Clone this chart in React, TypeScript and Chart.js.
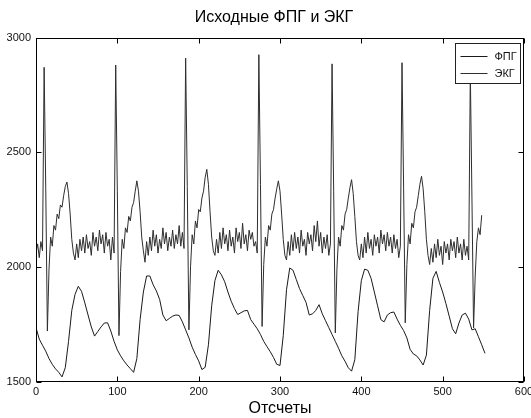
import React, { useEffect, useRef } from "react";
import { Chart, registerables } from "chart.js";

Chart.register(...registerables);

const chartTitle = "Исходные ФПГ и ЭКГ";
const xAxisLabel = "Отсчеты";
const seriesLabels = ["ФПГ", "ЭКГ"];
const xTicks = [0, 100, 200, 300, 400, 500, 600];
const yTicks = [1500, 2000, 2500, 3000];

// ФПГ: one value every 4 samples, starting at sample 0
const ppgStep = 4;
const ppgValues = [
  1735, 1685, 1658, 1632, 1600, 1575, 1555, 1540, 1520, 1560,
  1675, 1810, 1880, 1915, 1893, 1843, 1790, 1738, 1698, 1718,
  1738, 1755, 1756, 1720, 1675, 1638, 1612, 1590, 1572, 1556,
  1540, 1600, 1770, 1890, 1960, 1960, 1922, 1895, 1858, 1790,
  1765, 1775, 1785, 1790, 1788, 1760, 1725, 1690, 1650, 1618,
  1590, 1552, 1562, 1660, 1830, 1940, 1985, 1965, 1935, 1890,
  1850, 1818, 1792, 1800, 1808, 1810, 1770, 1750, 1730, 1705,
  1675, 1652, 1630, 1605, 1575, 1570, 1700, 1900, 1995, 1985,
  1945, 1905, 1875, 1845, 1790, 1795, 1810, 1835, 1795, 1765,
  1735, 1705, 1675, 1645, 1612, 1588, 1560, 1545, 1595, 1805,
  1940, 1990, 1985, 1950, 1890, 1830, 1770, 1760, 1790, 1800,
  1803, 1772, 1745, 1722, 1690, 1640, 1620, 1612, 1594, 1572,
  1615, 1810, 1950, 1980, 1932, 1890, 1840, 1785, 1730, 1708,
  1755, 1790, 1798, 1772, 1725, 1730, 1695, 1660, 1623,
];

// ЭКГ: one value every 2 samples, starting at sample 0
const ecgStep = 2;
const ecgValues = [
  2060, 2100, 2040, 2110, 2070,
  2870, 2340, 1720, 1990, 2130, 2090, 2180, 2160, 2230, 2210, 2270, 2260, 2310, 2350, 2370, 2320, 2230, 2120, 2060, 2030,
  2100, 2040, 2120, 2070, 2130, 2060, 2140, 2080, 2110, 2050, 2150, 2090, 2130, 2070, 2160, 2100, 2140, 2060, 2150, 2090, 2120, 2030, 2130,
  2060,
  2880, 2330, 1700, 1980, 2120, 2080, 2170, 2150, 2220, 2200, 2260, 2280, 2330, 2375, 2330, 2240, 2130, 2070, 2020,
  2110, 2050, 2130, 2070, 2160, 2090, 2140, 2060, 2120, 2080, 2170, 2100, 2150, 2070, 2130, 2090, 2160, 2080, 2140, 2100, 2180, 2090, 2150,
  2080,
  2910, 2350, 1725, 2000, 2140, 2100, 2200, 2170, 2250, 2240, 2300, 2330, 2390, 2425, 2360, 2240, 2130, 2070, 2050,
  2120, 2060, 2150, 2080, 2170, 2100, 2140, 2070, 2160, 2090, 2130, 2060, 2170, 2110, 2150, 2080, 2190, 2100, 2140, 2070, 2160, 2120, 2150, 2090, 2110,
  2060,
  2925, 2360, 1740, 2010, 2130, 2090, 2180, 2160, 2230, 2250, 2300, 2340, 2375, 2330, 2230, 2120, 2050, 2030,
  2110, 2050, 2140, 2070, 2150, 2080, 2130, 2060, 2160, 2090, 2120, 2050, 2150, 2100, 2140, 2070, 2180, 2110, 2200, 2090, 2150, 2060, 2130, 2080, 2140, 2050,
  2100,
  2885, 2330, 1712, 1990, 2130, 2090, 2180, 2160, 2230, 2250, 2300, 2345, 2380, 2320, 2220, 2110, 2050, 2030,
  2100, 2040, 2130, 2060, 2150, 2080, 2120, 2050, 2140, 2090, 2130, 2060, 2160, 2100, 2140, 2070, 2150, 2090, 2130, 2060, 2140, 2080, 2120, 2040,
  2090,
  2890, 2340, 1756, 2010, 2140, 2100, 2190, 2170, 2240, 2260, 2310, 2360, 2395, 2340, 2240, 2120, 2050, 2010,
  2080, 2020, 2100, 2040, 2120, 2050, 2090, 2010, 2110, 2060, 2100, 2030, 2120, 2070, 2110, 2040, 2130, 2060, 2100, 2030, 2120, 2050, 2090,
  2030,
  2850, 2300, 1734, 1960, 2110, 2170, 2140, 2225,
];

const FONT = '"Liberation Sans", Arial, sans-serif';

const matlabFrame = {
  id: "matlabFrame",
  afterDraw(chart: any) {
    const { ctx, chartArea: a, scales } = chart;
    const xs = scales.x;
    const ys = scales.y;
    ctx.save();

    // title centred like the reference
    ctx.fillStyle = "#000";
    ctx.font = "16px " + FONT;
    ctx.textAlign = "center";
    ctx.textBaseline = "middle";
    ctx.fillText(chartTitle, 274, 18);

    ctx.strokeStyle = "#000";
    ctx.lineWidth = 1;
    const L = Math.round(a.left) + 0.5;
    const R = Math.round(a.right) - 0.5;
    const T = Math.round(a.top) + 0.5;
    const B = Math.round(a.bottom) - 0.5;
    ctx.strokeRect(L, T, R - L, B - T);
    const tl = 5;
    ctx.beginPath();
    for (const v of xTicks) {
      const px = Math.round(xs.getPixelForValue(v)) + 0.5;
      ctx.moveTo(px, B);
      ctx.lineTo(px, B - tl);
      ctx.moveTo(px, T);
      ctx.lineTo(px, T + tl);
    }
    for (const v of yTicks) {
      const py = Math.round(ys.getPixelForValue(v)) + 0.5;
      ctx.moveTo(L, py);
      ctx.lineTo(L + tl, py);
      ctx.moveTo(R, py);
      ctx.lineTo(R - tl, py);
    }
    ctx.stroke();

    // legend box inside the axes (north-east)
    const bw = 65;
    const bh = 40;
    const bx = Math.round(a.right) - 4 - bw + 0.5;
    const by = Math.round(a.top) + 5 + 0.5;
    ctx.fillStyle = "#fff";
    ctx.fillRect(bx, by, bw, bh);
    ctx.strokeStyle = "#222";
    ctx.strokeRect(bx, by, bw, bh);
    ctx.font = "11px " + FONT;
    ctx.textBaseline = "middle";
    ctx.textAlign = "left";
    chart.data.datasets.forEach((ds: any, i: number) => {
      const ly = Math.round(by + 12 + i * 17) + 0.5;
      ctx.strokeStyle = ds.borderColor;
      ctx.beginPath();
      ctx.moveTo(bx + 5, ly);
      ctx.lineTo(bx + 32, ly);
      ctx.stroke();
      ctx.fillStyle = "#111";
      ctx.fillText(ds.label, bx + 39, ly);
    });
    ctx.restore();
  },
};

export default function App() {
  const ref = useRef<HTMLCanvasElement | null>(null);

  useEffect(() => {
    document.body.style.margin = "0";
    const canvas = ref.current;
    if (!canvas) return;
    const ppgData = ppgValues.map((v, i) => ({ x: i * ppgStep, y: v }));
    const ecgData = ecgValues.map((v, i) => ({ x: i * ecgStep, y: v }));
    const chart = new Chart(canvas, {
      type: "line",
      data: {
        datasets: [
          {
            label: seriesLabels[0],
            data: ppgData,
            borderColor: "#1a1a1a",
            borderWidth: 1,
            pointRadius: 0,
            tension: 0,
            fill: false,
          },
          {
            label: seriesLabels[1],
            data: ecgData,
            borderColor: "#2e2e2e",
            borderWidth: 1,
            pointRadius: 0,
            tension: 0,
            fill: false,
          },
        ],
      },
      options: {
        responsive: false,
        animation: false,
        events: [],
        layout: { padding: { left: 0, right: 7, top: 37.5, bottom: 0 } },
        plugins: {
          legend: { display: false },
          tooltip: { enabled: false },
          title: { display: false },
        },
        scales: {
          x: {
            type: "linear",
            min: 0,
            max: 600,
            afterFit: (s: any) => {
              s.height = 36.5;
              s.paddingLeft = 0;
              s.paddingRight = 0;
            },
            afterBuildTicks: (s: any) => {
              s.ticks = xTicks.map((v) => ({ value: v }));
            },
            grid: { display: false, drawTicks: false },
            border: { display: false },
            ticks: {
              padding: 4,
              color: "#111",
              font: { family: FONT, size: 11 },
              maxRotation: 0,
              autoSkip: false,
              callback: (v: any) => String(v),
            },
            title: {
              display: true,
              text: xAxisLabel,
              color: "#000",
              font: { family: FONT, size: 16 },
              padding: { top: 0, bottom: 0 },
            },
          },
          y: {
            type: "linear",
            min: 1500,
            max: 3000,
            afterFit: (s: any) => {
              s.width = 36;
              s.paddingTop = 0;
              s.paddingBottom = 0;
            },
            afterBuildTicks: (s: any) => {
              s.ticks = yTicks.map((v) => ({ value: v }));
            },
            grid: { display: false, drawTicks: false },
            border: { display: false },
            ticks: {
              padding: 5,
              color: "#111",
              font: { family: FONT, size: 11 },
              autoSkip: false,
              callback: (v: any) => String(v),
            },
          },
        },
      },
      plugins: [matlabFrame],
    } as any);
    return () => chart.destroy();
  }, []);

  return (
    <div style={{ width: 531, height: 418, background: "#fff" }}>
      <canvas ref={ref} width={531} height={418} style={{ display: "block" }} />
    </div>
  );
}
